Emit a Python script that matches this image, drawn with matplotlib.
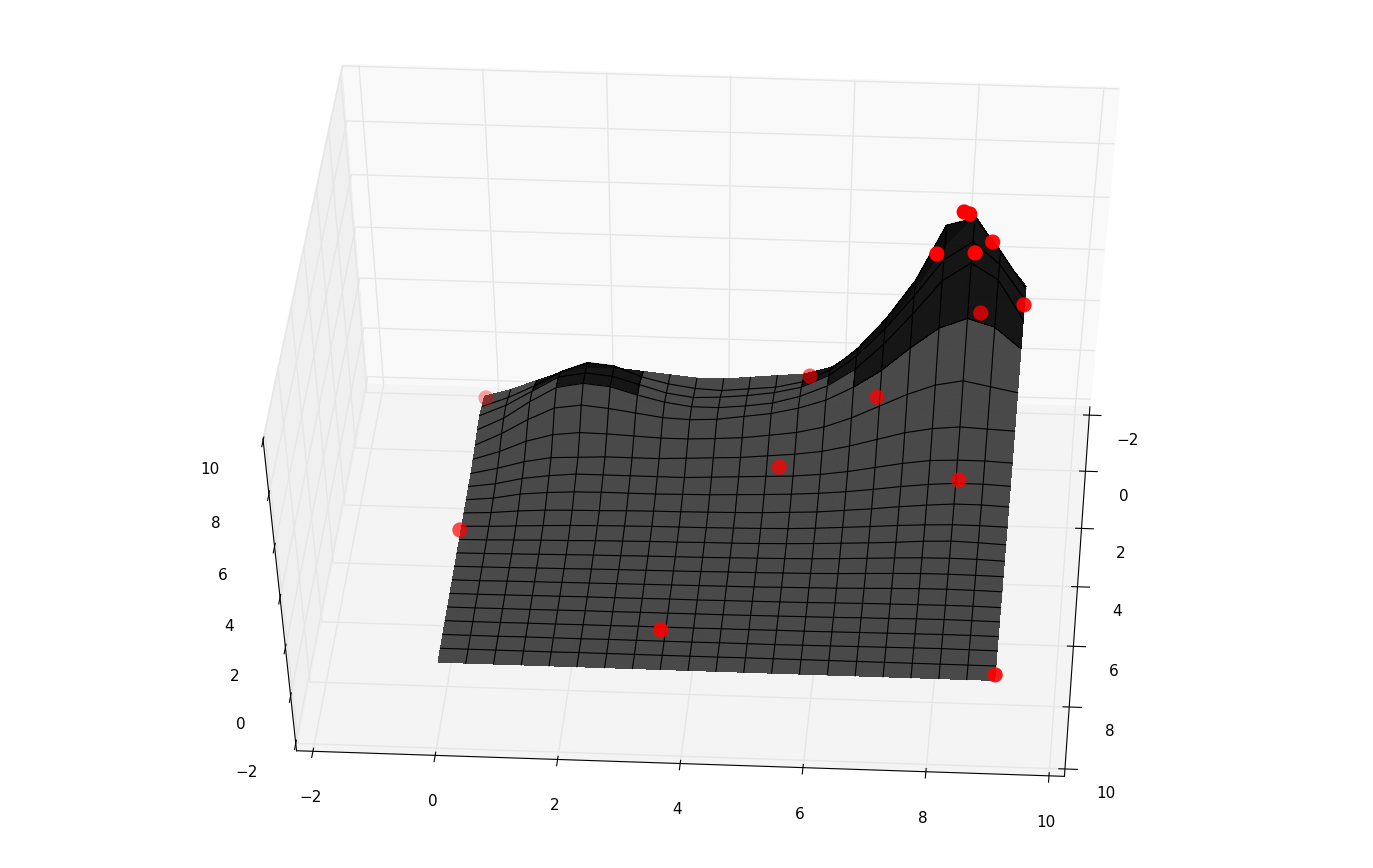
import matplotlib
matplotlib.use("Agg")
import matplotlib.pyplot as plt
import numpy as np

W, H = 1373, 868
ticks = [-2, 0, 2, 4, 6, 8, 10]
grid_x = [0.45 * i for i in range(21)]
grid_y = [0.45 * i for i in range(21)]
surface_z = [
    [0.0,0.3,0.7,1.1,1.3,1.3,1.2,1.1,1.0,1.0,1.1,1.2,1.3,1.6,2.3,3.3,4.8,6.5,7.6,6.2,5.0],
    [0.1,0.5,1.0,1.6,2.0,1.9,1.5,1.25,1.1,1.05,1.15,1.25,1.5,2.0,2.9,4.1,5.6,7.7,8.0,6.8,5.4],
    [0.25,0.7,1.3,1.9,2.1,2.0,1.7,1.4,1.25,1.3,1.4,1.55,1.8,2.3,3.1,4.2,5.5,6.9,7.6,6.8,5.5],
    [0.2,0.7,1.4,2.0,2.2,2.1,1.8,1.55,1.4,1.4,1.5,1.65,1.95,2.4,3.1,4.1,5.3,6.6,7.3,6.7,5.2],
    [0.1,0.6,1.2,1.7,1.85,1.75,1.6,1.45,1.4,1.45,1.6,1.75,2.0,2.35,2.9,3.6,4.5,5.3,5.7,5.4,4.6],
    [0.05,0.4,0.85,1.15,1.27,1.25,1.2,1.15,1.15,1.2,1.27,1.4,1.55,1.8,2.2,2.7,3.2,3.6,3.8,3.6,3.4],
    [0,0.25,0.55,0.75,0.8,0.85,0.85,0.85,0.9,0.95,1.0,1.1,1.2,1.35,1.6,1.9,2.2,2.4,2.5,2.45,2.4],
    [0,0.15,0.4,0.55,0.65,0.65,0.65,0.65,0.65,0.7,0.75,0.8,0.85,0.95,1.1,1.3,1.5,1.65,1.7,1.7,1.65],
    [0,0.1,0.3,0.4,0.46,0.48,0.48,0.48,0.5,0.52,0.56,0.6,0.65,0.72,0.82,0.95,1.1,1.22,1.3,1.3,1.25],
    [0,0.05,0.15,0.22,0.25,0.27,0.3,0.32,0.33,0.35,0.37,0.4,0.45,0.5,0.6,0.7,0.82,0.92,1.0,1.0,0.95],
    [0,0.03,0.08,0.13,0.17,0.2,0.22,0.24,0.25,0.26,0.28,0.3,0.33,0.38,0.45,0.52,0.6,0.66,0.7,0.7,0.67],
    [0,0.02,0.05,0.08,0.1,0.13,0.15,0.17,0.18,0.2,0.21,0.23,0.26,0.3,0.35,0.4,0.46,0.54,0.58,0.55,0.5],
    [0,0.01,0.03,0.05,0.07,0.09,0.1,0.12,0.13,0.14,0.16,0.18,0.2,0.23,0.27,0.32,0.37,0.41,0.43,0.42,0.38],
    [0,0.01,0.02,0.04,0.05,0.07,0.08,0.09,0.1,0.11,0.13,0.14,0.16,0.18,0.21,0.25,0.29,0.32,0.33,0.32,0.3],
    [0,0,0.02,0.03,0.04,0.05,0.06,0.07,0.08,0.09,0.1,0.11,0.13,0.15,0.17,0.2,0.23,0.26,0.27,0.26,0.24],
    [0,0,0.01,0.02,0.03,0.04,0.04,0.05,0.06,0.06,0.07,0.08,0.09,0.1,0.12,0.14,0.15,0.16,0.17,0.17,0.15],
    [0,0,0.01,0.01,0.02,0.03,0.03,0.04,0.04,0.05,0.05,0.06,0.07,0.08,0.09,0.11,0.12,0.14,0.15,0.14,0.13],
    [0,0,0,0.01,0.01,0.02,0.02,0.03,0.03,0.03,0.04,0.04,0.05,0.05,0.06,0.07,0.08,0.09,0.1,0.1,0.09],
    [0,0,0,0.01,0.01,0.01,0.02,0.02,0.02,0.02,0.03,0.03,0.03,0.04,0.05,0.06,0.07,0.08,0.09,0.08,0.07],
    [0,0,0,0,0,0.01,0.01,0.01,0.01,0.01,0.01,0.02,0.02,0.02,0.02,0.02,0.02,0.02,0.02,0.02,0.02],
    [0,0,0,0,0,0,0,0,0,0,0,0,0,0,0,0,0,0,0,0,0],
]
point_x = [7.92, 8.01, 8.41, 8.14, 7.52, 8.99, 8.3, 5.51, 6.67, 5.14, 8.14, 0.03, -0.02, 3.52, 9.0]
point_y = [0.25, 0.22, 0.33, 0.54, 0.34, 0.19, 0.97, 0.24, 1.16, 2.56, 2.9, 0.06, 4.63, 7.72, 8.82]
point_z = [8.0, 7.9, 7.0, 6.8, 6.5, 4.5, 5.0, 1.5, 1.8, 0.5, 0.6, 0.0, 0.0, 0.0, 0.0]
point_alpha = [1, 1, 0.95, 1, 1, 0.9, 0.75, 0.6, 0.75, 0.75, 0.8, 0.35, 0.7, 0.9, 0.9]

plt.rcParams["grid.color"] = "#e6e6e6"
plt.rcParams["grid.linewidth"] = 1.0
plt.rcParams["font.size"] = 11

fig = plt.figure(figsize=(W / 100, H / 100), dpi=100)
ax = fig.add_axes([-27.8 / W, -15.9 / H, 1426.6 / W, 900 / H], projection="3d")
# fill the figure like the old non-square 3d axes did
ax.apply_aspect = lambda position=None: None
ax.computed_zorder = False
ax.view_init(elev=49.72, azim=-86.26)
ax.set_box_aspect((1, 1, 1), zoom=0.9125)
ax.set_xlim(-2.268, 10.251)
ax.set_ylim(10.235, -2.298)
ax.set_zlim(-2.317, 10.054)
ax.set_xticks(ticks)
ax.set_yticks(ticks)
ax.set_zticks(ticks)
ax.zaxis.set_ticks_position("upper")
# z ticks point along y in the reference
ax.zaxis._get_tickdir = lambda position: 1
ax.tick_params(axis="x", pad=17)
ax.tick_params(axis="y", pad=16)
ax.tick_params(axis="z", pad=17.5)
ax.xaxis.set_pane_color("#f0f0f0")
ax.yaxis.set_pane_color("#f9f9f9")
ax.zaxis.set_pane_color("#f4f4f4")

X, Y = np.meshgrid(grid_x, grid_y)
Z = np.array(surface_z)
cols = []
for j in range(21):
    row = []
    for i in range(21):
        dark = (j < 3 and 3 <= i <= 5) or (j < 2 and i == 2) or (j < 4 and i >= 14) or (j < 3 and i == 13) or (j < 2 and i == 12)
        row.append("#0e0e0e" if dark else "#434343")
    cols.append(row)
ax.plot_surface(X, Y, Z, rstride=1, cstride=1, facecolors=cols, shade=False, linewidth=0, antialiased=False, alpha=0.97, zorder=1)
for j in range(1, 20):
    ax.plot(X[j], Y[j], Z[j], color="k", lw=0.8, zorder=1.5)
for i in range(1, 20):
    ax.plot(X[:, i], Y[:, i], Z[:, i], color="k", lw=0.8, zorder=1.5)
rgba = [(1, 0, 0, a) for a in point_alpha]
ax.scatter(point_x, point_y, point_z, c=rgba, s=120, linewidths=0, depthshade=False, zorder=2)
fig.savefig("out.png", dpi=100)
